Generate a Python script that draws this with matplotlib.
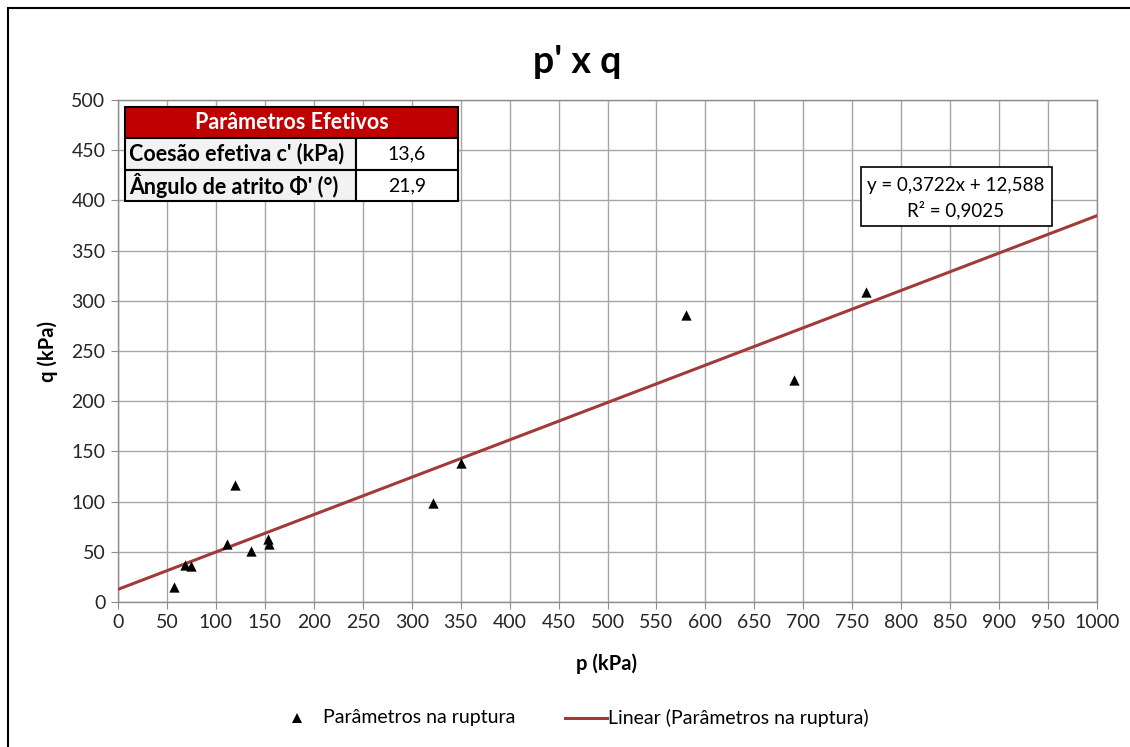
import matplotlib
matplotlib.use("Agg")
import matplotlib.pyplot as plt
from matplotlib.patches import Rectangle
from matplotlib.lines import Line2D
import numpy as np

plt.rcParams['font.family'] = ['Lato', 'DejaVu Sans']

# Data
p_vals = [57, 68, 75, 111, 120, 136, 153, 154, 322, 350, 580, 691, 764]
q_vals = [15, 37, 36, 58, 117, 51, 63, 58, 99, 138, 286, 221, 309]
slope = 0.3722
intercept = 12.588
r2_text = "R² = 0,9025"
eq_text = "y = 0,3722x + 12,588"
table_header = "Parâmetros Efetivos"
table_rows = [("Coesão efetiva c' (kPa)", "13,6"), ("Ângulo de atrito Φ' (°)", "21,9")]
x_ticks = list(range(0, 1001, 50))
y_ticks = list(range(0, 501, 50))
series_label = "Parâmetros na ruptura"
trend_label = "Linear (Parâmetros na ruptura)"

W, H = 1130, 747
fig = plt.figure(figsize=(W/100, H/100), dpi=100)

def fx(px): return px / W
def fy(py): return 1 - py / H

TREND = '#a33a3a'

# outer border
fig.patches.append(Rectangle((fx(8), fy(760)), fx(1140) - fx(8), fy(8) - fy(760),
                             transform=fig.transFigure, fill=False, edgecolor='black', linewidth=1.5))

ax = fig.add_axes([fx(118), fy(602), fx(1097) - fx(118), fy(100) - fy(602)])
ax.set_xlim(0, 1000)
ax.set_ylim(0, 500)
ax.set_xticks(x_ticks)
ax.set_yticks(y_ticks)
ax.grid(True, color='#a6a6a6', linewidth=1.0)
ax.set_axisbelow(True)
for s in ax.spines.values():
    s.set_color('#8c8c8c')
    s.set_linewidth(1.0)
ax.tick_params(axis='both', direction='out', length=5, color='#8c8c8c', labelsize=14, labelcolor='#262626', pad=4)

xl = np.array([0, 1000])
ax.plot(xl, slope * xl + intercept, color=TREND, linewidth=2.2, zorder=3)
ax.scatter(p_vals, q_vals, marker='^', s=55, color='black', zorder=4, linewidths=0)

ax.set_xlabel("p (kPa)", fontsize=14.5, fontweight='bold')
ax.set_ylabel("q (kPa)", fontsize=14.5, fontweight='bold')
ax.xaxis.label.set_va('center')
ax.yaxis.label.set_va('center')
ax.xaxis.set_label_coords((607 - 118) / 979, (602 - 664) / 502)
ax.yaxis.set_label_coords((48 - 118) / 979, (602 - 352) / 502)

fig.text(fx(577), fy(62), "p' x q", fontsize=27, fontweight='bold', ha='center', va='center')

# equation box
fig.patches.append(Rectangle((fx(861), fy(226)), fx(1052) - fx(861), fy(167) - fy(226),
                             transform=fig.transFigure, facecolor='white', edgecolor='black', linewidth=1.2, zorder=5))
fig.text(fx(956), fy(185), eq_text, fontsize=13.5, ha='center', va='center', zorder=6)
fig.text(fx(956), fy(210), r2_text, fontsize=13.5, ha='center', va='center', zorder=6)

# table
tx0, tx1, tsplit = 125, 458, 356
ty = [107, 138, 170, 201]
fig.patches.append(Rectangle((fx(tx0), fy(ty[1])), fx(tx1) - fx(tx0), fy(ty[0]) - fy(ty[1]),
                             transform=fig.transFigure, facecolor='#c00000', edgecolor='black', linewidth=1.5, zorder=5))
fig.text(fx((tx0 + tx1) / 2), fy((ty[0] + ty[1]) / 2), table_header, fontsize=15.5, fontweight='bold',
         color='white', ha='center', va='center', zorder=6)
for i, (lab, val) in enumerate(table_rows):
    y0, y1 = ty[i + 1], ty[i + 2]
    fig.patches.append(Rectangle((fx(tx0), fy(y1)), fx(tsplit) - fx(tx0), fy(y0) - fy(y1),
                                 transform=fig.transFigure, facecolor='#f2f2f2', edgecolor='black', linewidth=1.5, zorder=5))
    fig.patches.append(Rectangle((fx(tsplit), fy(y1)), fx(tx1) - fx(tsplit), fy(y0) - fy(y1),
                                 transform=fig.transFigure, facecolor='white', edgecolor='black', linewidth=1.5, zorder=5))
    fig.text(fx(tx0 + 4), fy((y0 + y1) / 2), lab, fontsize=15.5, fontweight='bold', ha='left', va='center', zorder=6)
    fig.text(fx((tsplit + tx1) / 2), fy((y0 + y1) / 2), val, fontsize=14, ha='center', va='center', zorder=6)

# legend (manual layout)
ly = 718
fig.add_artist(Line2D([fx(297)], [fy(ly)], marker='^', linestyle='none', color='black',
                      markersize=7.5, markeredgewidth=0, transform=fig.transFigure))
fig.text(fx(323), fy(ly), series_label, fontsize=14, ha='left', va='center')
fig.add_artist(Line2D([fx(565), fx(607)], [fy(ly), fy(ly)], color=TREND, linewidth=2.2,
                      transform=fig.transFigure))
fig.text(fx(608), fy(ly), trend_label, fontsize=14, ha='left', va='center')

fig.savefig("out.png", dpi=100)
